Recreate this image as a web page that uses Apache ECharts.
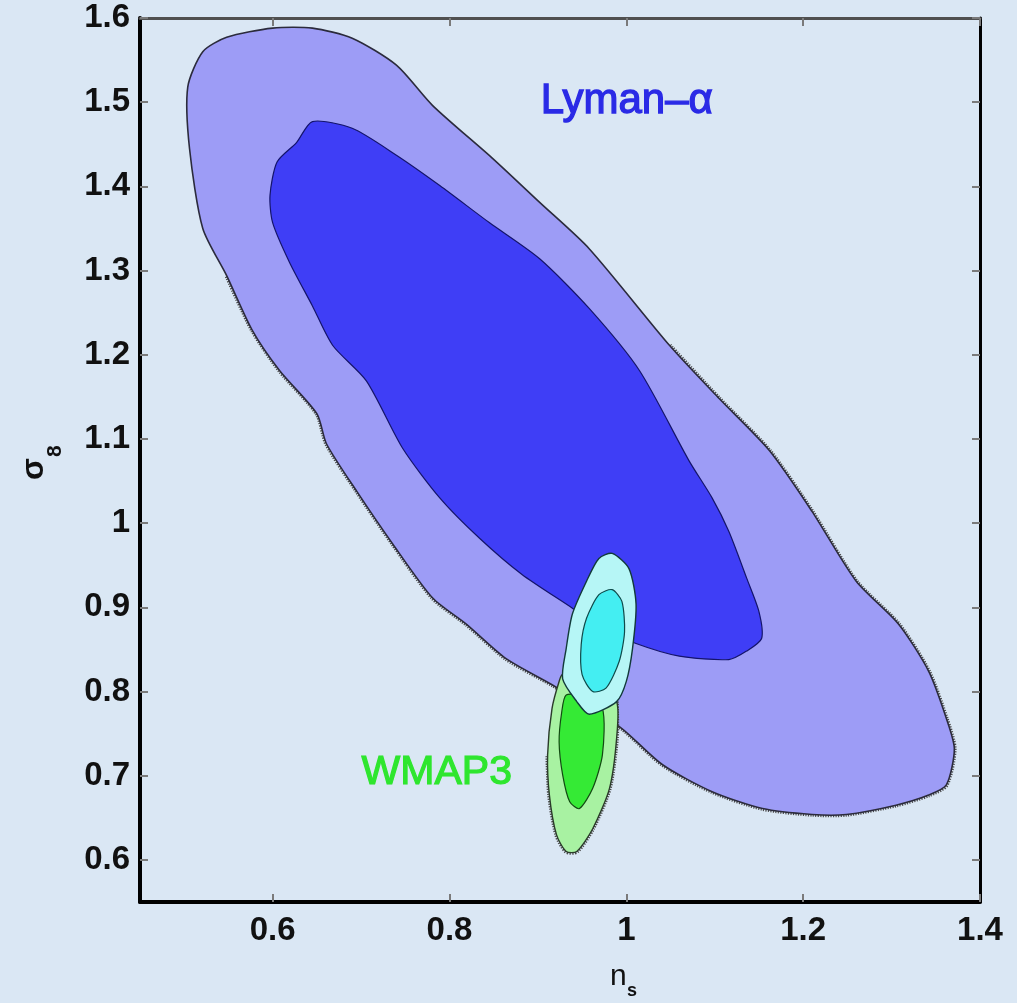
<!DOCTYPE html>
<html>
<head>
<meta charset="utf-8">
<script src="https://cdn.jsdelivr.net/npm/echarts@6/dist/echarts.min.js"></script>
<style>
html,body{margin:0;padding:0;background:#dae7f4;}
#chart{width:1017px;height:1003px;}
</style>
</head>
<body>
<div id="chart"></div>
<script>
// ---- data (n_s, sigma_8) ----
const xTickValues = [0.6, 0.8, 1, 1.2, 1.4];
const yTickValues = [0.6, 0.7, 0.8, 0.9, 1, 1.1, 1.2, 1.3, 1.4, 1.5, 1.6];

const lymanOuter = [
  [0.504,1.518],[0.521,1.560],[0.548,1.577],[0.600,1.588],[0.645,1.588],[0.690,1.576],
  [0.740,1.544],[0.781,1.496],[0.849,1.433],[0.902,1.381],[0.958,1.326],[1.049,1.211],
  [1.105,1.148],[1.162,1.086],[1.210,1.014],[1.260,0.931],[1.308,0.880],[1.342,0.824],
  [1.362,0.768],[1.371,0.732],[1.362,0.689],[1.342,0.677],[1.305,0.665],[1.249,0.654],
  [1.210,0.654],[1.154,0.661],[1.097,0.681],[1.041,0.713],[0.995,0.756],[0.955,0.782],
  [0.916,0.808],[0.864,0.839],[0.819,0.880],[0.781,0.911],[0.736,0.975],[0.695,1.038],
  [0.661,1.094],[0.650,1.130],[0.608,1.181],[0.577,1.229],[0.548,1.294],[0.521,1.350],
  [0.506,1.445]
];
const lymanInner = [
  [0.645,1.477],[0.690,1.469],[0.740,1.437],[0.789,1.401],[0.845,1.357],[0.902,1.314],
  [0.958,1.255],[1.015,1.181],[1.071,1.074],[1.097,1.030],[1.116,0.990],[1.136,0.935],
  [1.150,0.895],[1.153,0.863],[1.136,0.848],[1.116,0.838],[1.060,0.842],[1.011,0.857],
  [0.969,0.877],[0.939,0.899],[0.882,0.939],[0.834,0.982],[0.789,1.030],[0.747,1.089],
  [0.706,1.169],[0.668,1.211],[0.645,1.258],[0.619,1.310],[0.600,1.357],[0.597,1.389],
  [0.605,1.429],[0.627,1.452]
];
const wmapOuter = [
  [0.928,0.820],[0.969,0.794],[0.989,0.788],[0.989,0.744],[0.981,0.685],[0.962,0.637],
  [0.944,0.610],[0.932,0.610],[0.921,0.630],[0.913,0.677],[0.911,0.725],[0.916,0.780],
  [0.924,0.812]
];
const wmapInner = [
  [0.932,0.796],[0.953,0.794],[0.973,0.780],[0.973,0.725],[0.962,0.685],[0.947,0.661],
  [0.936,0.669],[0.928,0.701],[0.924,0.740],[0.927,0.776]
];
const combOuter = [
  [0.984,0.964],[1.003,0.946],[1.011,0.904],[1.007,0.851],[1.000,0.812],[0.989,0.788],
  [0.958,0.773],[0.944,0.788],[0.928,0.815],[0.932,0.851],[0.939,0.892],[0.955,0.931],
  [0.969,0.958]
];
const combInner = [
  [0.984,0.921],[0.995,0.907],[0.998,0.871],[0.992,0.836],[0.977,0.804],[0.962,0.800],
  [0.950,0.820],[0.949,0.856],[0.955,0.887],[0.969,0.915]
];

// which stretch of an outer contour carries the ragged (hatched) edge: [from, to] point indices
const lymanRagged = [11, 40];
const wmapRagged = [2, 10];

function contour(name, pts, fill, stroke, lw, ragged) {
  return {
    name: name,
    type: 'custom',
    coordinateSystem: 'cartesian2d',
    xAxisIndex: 0, yAxisIndex: 0,
    silent: true,
    data: pts,
    encode: {x: 0, y: 1},
    renderItem: function (params, api) {
      if (params.dataIndex !== 0) return null;
      const points = pts.map(function (p) { return api.coord(p); });
      const children = [];
      if (ragged) {
        children.push({
          type: 'polyline',
          shape: {points: points.slice(ragged[0], ragged[1] + 1), smooth: 0.25},
          style: {fill: null, stroke: '#4a4a4a', lineWidth: 4.5, lineDash: [1.2, 1.3]}
        });
      }
      children.push({
        type: 'polygon',
        shape: {points: points, smooth: 0.25},
        style: {fill: fill, stroke: stroke, lineWidth: lw}
      });
      return {type: 'group', children: children};
    }
  };
}

const fmt = function (v) { return String(+(+v).toFixed(2)); };
const labelFont = {fontSize: 33, fontWeight: 'bold', color: '#111', fontFamily: 'Liberation Sans, Arial, sans-serif'};

const chart = echarts.init(document.getElementById('chart'), null, {renderer: 'canvas'});
chart.setOption({
  animation: false,
  backgroundColor: '#dae7f4',
  grid: {left: 140, right: 37, top: 18, bottom: 101, containLabel: false},
  xAxis: [
    {
      type: 'value', min: 0.45, max: 1.4, position: 'bottom',
      axisLine: {show: true, onZero: false, lineStyle: {color: '#000', width: 4}},
      axisTick: {show: true, inside: true, length: 8, customValues: xTickValues, lineStyle: {color: '#7a7a7a', width: 2}},
      axisLabel: Object.assign({customValues: xTickValues, formatter: fmt, margin: 12}, labelFont),
      splitLine: {show: false}
    },
    {
      type: 'value', min: 0.45, max: 1.4, position: 'top',
      axisLine: {show: true, onZero: false, lineStyle: {color: '#505050', width: 3}},
      axisTick: {show: true, inside: true, length: 8, customValues: xTickValues, lineStyle: {color: '#7a7a7a', width: 2}},
      axisLabel: {show: false},
      splitLine: {show: false}
    }
  ],
  yAxis: [
    {
      type: 'value', min: 0.55, max: 1.6, position: 'left',
      axisLine: {show: true, onZero: false, lineStyle: {color: '#000', width: 4}},
      axisTick: {show: true, inside: true, length: 8, customValues: yTickValues, lineStyle: {color: '#7a7a7a', width: 2}},
      axisLabel: Object.assign({customValues: yTickValues, formatter: fmt, margin: 10}, labelFont),
      splitLine: {show: false}
    },
    {
      type: 'value', min: 0.55, max: 1.6, position: 'right',
      axisLine: {show: true, onZero: false, lineStyle: {color: '#000', width: 3}},
      axisTick: {show: true, inside: true, length: 8, customValues: yTickValues, lineStyle: {color: '#7a7a7a', width: 2}},
      axisLabel: {show: false},
      splitLine: {show: false}
    }
  ],
  graphic: [
    {type: 'text', left: 540, top: 80, style: {text: 'Lyman–α', fontSize: 42, fill: '#2a2ae6', stroke: '#2a2ae6', lineWidth: 1.3, fontFamily: 'Liberation Sans, Arial, sans-serif'}},
    {type: 'text', left: 361, top: 752, style: {text: 'WMAP3', fontSize: 41, fill: '#2ee62e', stroke: '#2ee62e', lineWidth: 1.2, fontFamily: 'Liberation Sans, Arial, sans-serif'}},
    {type: 'text', x: 50, y: 480, rotation: Math.PI / 2, style: {text: 'σ', fontSize: 32, fill: '#111', fontWeight: 'bold', fontFamily: 'Liberation Sans, Arial, sans-serif', textAlign: 'left', textVerticalAlign: 'bottom'}},
    {type: 'text', x: 66, y: 457, rotation: Math.PI / 2, style: {text: '8', fontSize: 21, fill: '#111', fontWeight: 'bold', fontFamily: 'Liberation Sans, Arial, sans-serif', textAlign: 'left', textVerticalAlign: 'bottom'}},
    {type: 'text', x: 610, y: 962, style: {text: 'n', fontSize: 30, fill: '#111', fontFamily: 'Liberation Sans, Arial, sans-serif'}},
    {type: 'text', x: 627, y: 982, style: {text: 's', fontSize: 18, fill: '#111', fontWeight: 'bold', fontFamily: 'Liberation Sans, Arial, sans-serif'}}
  ],
  series: [
    contour('Lyman-α 95%', lymanOuter, '#9d9cf6', '#2b2b3c', 1.6, lymanRagged),
    contour('Lyman-α 68%', lymanInner, '#3f3ef6', '#14146a', 1.2, null),
    contour('WMAP3 95%', wmapOuter, '#a8f2a2', '#2b3b2b', 1.4, wmapRagged),
    contour('WMAP3 68%', wmapInner, '#35ea35', '#124a12', 1.2, null),
    contour('Combined 95%', combOuter, '#b6f6f6', '#123a3a', 1.4, null),
    contour('Combined 68%', combInner, '#44eef2', '#0e4a4a', 1.2, null)
  ]
});
</script>
</body>
</html>
